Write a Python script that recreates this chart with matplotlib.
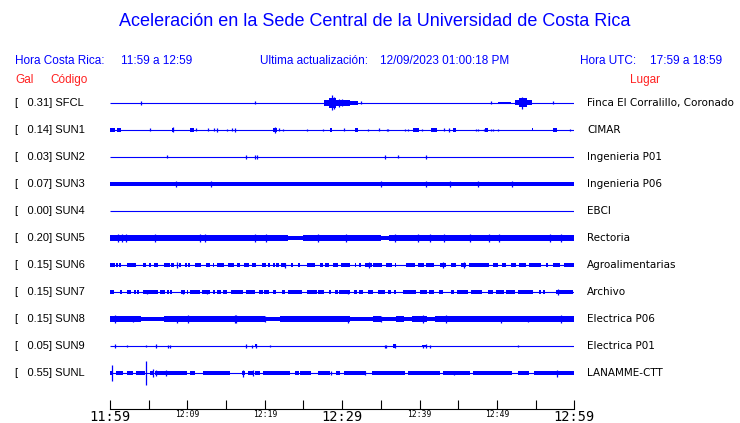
import matplotlib
matplotlib.use('Agg')
import matplotlib.pyplot as plt
import numpy as np
from matplotlib.transforms import blended_transform_factory

# ---------------- data ----------------
title = "Aceleración en la Sede Central de la Universidad de Costa Rica"
codes = ['SFCL', 'SUN1', 'SUN2', 'SUN3', 'SUN4', 'SUN5', 'SUN6', 'SUN7', 'SUN8', 'SUN9', 'SUNL']
gal = [0.31, 0.14, 0.03, 0.07, 0.00, 0.20, 0.15, 0.15, 0.15, 0.05, 0.55]
places = ['Finca El Corralillo, Coronado', 'CIMAR', 'Ingenieria P01', 'Ingenieria P06', 'EBCI',
          'Rectoria', 'Agroalimentarias', 'Archivo', 'Electrica P06', 'Electrica P01', 'LANAMME-CTT']

tick_minutes = [0, 5, 10, 15, 20, 25, 30, 35, 40, 45, 50, 55, 60]
tick_labels = ['11:59', '', '12:09', '', '12:19', '', '12:29', '', '12:39', '', '12:49', '', '12:59']
big_labels = ['11:59', '12:29', '12:59']

# bursts: (start minute, end minute, half amplitude in px-units)
sfcl_bursts = [(27.7, 28.3, 2.6), (28.3, 29.2, 5.0), (29.2, 31.0, 2.8), (31.0, 32.1, 2.2), (50.1, 51.8, 1.3),
               (52.3, 52.9, 2.5), (52.9, 53.9, 4.5), (53.9, 54.5, 2.5)]
sfcl_spikes = [(4.0, 2.0), (18.7, 1.5), (28.7, 7.5), (29.0, 6.0), (29.6, 4.0), (30.0, 3.5), (32.5, 1.5),
               (49.3, 1.5), (53.3, 6.3), (57.2, 1.5)]

sun1_bursts = [(0.0, 0.6, 1.8), (0.9, 1.4, 1.8), (8.0, 8.2, 2.0), (10.3, 10.8, 1.8), (21.1, 21.6, 2.0),
               (28.4, 28.7, 1.8), (31.7, 32.0, 1.8), (39.2, 39.9, 1.8), (41.5, 42.2, 1.8),
               (44.3, 44.7, 1.8), (48.5, 48.8, 1.8), (54.5, 54.7, 1.5), (57.2, 57.7, 1.8)]
sun1_spikes = [(5.2, 1.5), (8.1, 2.5), (11.1, 1.5), (12.6, 1.5), (13.5, 1.5), (13.8, 2.0), (15.1, 1.0),
               (15.8, 1.5), (16.2, 2.0), (21.3, 3.4), (21.8, 1.5), (22.4, 1.2), (25.5, 1.2), (27.5, 1.0),
               (30.2, 1.5), (33.4, 1.2), (34.8, 1.5), (35.8, 1.2), (35.9, 1.2), (38.1, 1.2), (38.5, 1.2),
               (40.3, 1.2), (43.2, 1.5), (43.8, 2.3), (47.3, 1.2), (47.6, 1.2), (48.3, 1.2), (49.2, 1.2),
               (49.5, 1.2), (50.2, 1.2), (59.4, 1.2)]

sun2_bursts = []
sun2_spikes = [(7.4, 1.5), (17.6, 2.0), (18.8, 2.0), (19.0, 2.0), (35.5, 2.0), (37.2, 1.5), (40.9, 2.0)]

# per-minute envelope (half amplitude, px-units) for the continuous traces
sun3_env = [2.2, 2.1, 2.1, 2.2, 2.1, 2.0, 2.1, 2.2, 2.1, 2.1, 2.1, 2.2, 2.1, 2.1, 2.0, 2.1, 2.1, 2.2, 2.1, 2.1,
            2.1, 2.1, 2.2, 2.1, 2.1, 2.1, 2.0, 2.1, 2.1, 2.2, 2.1, 2.1, 2.1, 2.2, 2.1, 2.1, 2.1, 2.2, 2.2, 2.1,
            2.1, 2.1, 2.1, 2.2, 2.1, 2.1, 2.1, 2.1, 2.2, 2.1, 2.1, 2.1, 2.1, 2.1, 2.2, 2.1, 2.1, 2.1, 2.1, 2.2]
sun3_spikes = [(8.5, 2.8), (13.0, 2.8), (35.0, 3.0), (40.9, 3.2), (44.0, 2.8), (47.5, 2.8), (52.0, 2.8)]

sun5_env = [3.0, 3.0, 3.0, 2.8, 2.8, 2.8, 2.8, 2.9, 2.8, 2.8, 2.8, 2.7, 2.7, 2.8, 2.7, 2.7, 2.7, 2.8, 2.7, 2.7,
            2.8, 2.7, 2.7, 2.3, 2.3, 2.8, 2.8, 2.9, 2.8, 2.8, 2.8, 2.9, 2.8, 2.8, 2.8, 1.6, 3.0, 3.0, 3.0, 3.1,
            3.0, 3.0, 3.1, 3.0, 3.0, 3.0, 3.1, 3.0, 3.0, 3.0, 2.9, 2.9, 2.9, 2.8, 2.9, 2.9, 2.9, 2.8, 2.9, 2.9]
sun5_spikes = [(1.0, 4.0), (1.6, 4.0), (2.1, 4.0), (5.8, 4.0), (11.6, 4.0), (12.3, 3.8), (18.8, 4.0),
               (20.2, 3.8), (26.9, 3.8), (30.5, 4.2), (36.8, 3.8), (39.8, 4.0), (41.3, 3.8), (43.1, 4.0),
               (46.5, 3.8), (49.0, 3.8), (50.3, 4.0), (56.8, 3.8), (58.3, 3.8)]

sun6_bursts = [(0.0, 0.6, 1.7), (0.8, 1.0, 1.7), (1.2, 1.4, 1.7), (2.2, 3.4, 1.7), (4.3, 4.6, 1.7),
               (5.1, 5.3, 1.7), (5.7, 6.2, 1.7), (7.0, 7.7, 1.7), (7.9, 8.3, 1.7), (8.9, 9.2, 1.7),
               (9.7, 9.9, 1.7), (10.1, 10.3, 1.7), (11.0, 11.8, 1.7), (12.4, 12.9, 1.7), (13.3, 13.5, 1.7),
               (13.8, 14.7, 1.7), (15.3, 16.0, 1.7), (16.4, 16.8, 1.7), (17.3, 17.9, 1.7), (18.4, 18.9, 1.7),
               (19.7, 20.1, 1.7), (20.4, 20.7, 1.7), (21.1, 21.3, 1.7), (21.5, 21.8, 1.7), (22.1, 22.8, 1.7),
               (23.4, 23.6, 1.7), (24.3, 24.6, 1.7), (25.4, 26.5, 1.7), (27.2, 27.5, 1.7), (27.8, 28.3, 1.7),
               (28.8, 29.5, 1.7), (29.8, 31.0, 1.7), (31.6, 31.8, 1.7), (32.2, 32.4, 1.7), (32.9, 33.8, 1.7),
               (34.0, 35.1, 1.7), (35.7, 36.4, 1.7), (36.8, 37.0, 1.7), (38.3, 39.4, 1.7), (39.8, 40.6, 1.7),
               (40.9, 41.9, 1.7), (42.6, 43.4, 1.7), (44.1, 44.7, 1.7), (45.4, 46.0, 1.7), (46.4, 49.0, 1.7),
               (49.5, 50.1, 1.7), (50.7, 51.2, 1.7), (51.8, 52.5, 1.7), (52.9, 53.8, 1.7), (54.2, 55.7, 1.7),
               (56.3, 56.6, 1.7), (57.2, 58.1, 1.7), (58.7, 60.0, 1.7)]
sun6_spikes = [(8.6, 3.3), (22.6, 2.5), (33.5, 3.0), (43.0, 3.0), (45.8, 2.7)]

sun7_bursts = [(0.0, 0.5, 1.6), (1.3, 1.6, 1.6), (2.2, 2.7, 1.6), (3.1, 3.3, 1.6), (3.5, 3.7, 1.6),
               (4.3, 6.2, 1.6), (6.5, 7.1, 1.6), (7.4, 7.6, 1.6), (7.8, 8.0, 1.6), (9.2, 9.7, 1.6),
               (9.9, 10.1, 1.6), (10.3, 11.6, 1.6), (11.9, 12.9, 1.6), (13.3, 13.6, 1.6), (13.8, 14.3, 1.6),
               (14.6, 15.1, 1.6), (15.6, 17.2, 1.6), (17.6, 18.7, 1.6), (19.3, 19.8, 1.6), (19.9, 20.5, 1.6),
               (21.1, 21.5, 1.6), (22.2, 22.6, 1.6), (23.0, 24.8, 1.6), (25.4, 26.7, 1.6), (26.9, 27.7, 1.6),
               (28.3, 28.6, 1.6), (29.1, 29.4, 1.6), (29.6, 31.0, 1.6), (31.5, 31.9, 1.6), (32.2, 32.7, 1.6),
               (33.3, 34.0, 1.6), (34.6, 35.1, 1.6), (35.2, 35.5, 1.6), (35.9, 36.3, 1.6), (36.7, 36.9, 1.6),
               (37.8, 39.6, 1.6), (40.0, 41.0, 1.6), (41.2, 41.9, 1.6), (42.5, 43.0, 1.6), (44.1, 44.5, 1.6),
               (44.9, 46.2, 1.6), (46.7, 48.1, 1.6), (48.8, 49.5, 1.6), (49.9, 50.9, 1.6), (51.2, 52.3, 1.6),
               (52.7, 54.6, 1.6), (55.4, 55.7, 1.6), (56.0, 56.2, 1.6), (57.6, 59.8, 1.6)]
sun7_spikes = [(4.8, 2.2), (9.4, 2.2), (12.5, 2.2), (30.8, 2.2), (57.9, 3.3)]

sun8_env = [2.7, 2.7, 2.7, 2.6, 2.1, 2.1, 2.2, 2.6, 2.6, 2.5, 2.5, 2.6, 2.5, 2.5, 2.6, 2.5, 2.6, 2.5, 2.5, 2.5,
            2.2, 2.2, 2.5, 2.6, 2.5, 2.5, 2.5, 2.6, 2.5, 2.5, 2.5, 2.0, 2.1, 2.0, 2.5, 2.0, 2.1, 2.5, 2.0, 2.5,
            2.5, 2.1, 2.5, 2.5, 2.6, 2.8, 2.8, 2.9, 2.8, 2.8, 2.9, 2.8, 2.8, 2.8, 2.9, 2.8, 2.6, 2.5, 2.6, 2.7]
sun8_spikes = [(0.6, 3.8), (3.0, 3.3), (8.6, 3.5), (10.1, 3.6), (16.1, 3.8), (16.3, 3.6), (20.0, 3.3),
               (30.7, 3.5), (35.0, 3.3), (40.4, 3.8), (43.4, 3.6), (50.5, 3.5), (54.0, 3.3), (58.3, 3.8)]

sun9_bursts = [(18.8, 19.0, 1.5), (36.6, 36.9, 1.8), (40.3, 40.9, 1.3)]
sun9_spikes = [(0.6, 2.0), (2.2, 1.2), (4.6, 1.2), (6.0, 2.0), (7.5, 1.5), (7.7, 1.5), (17.6, 2.0),
               (18.3, 1.5), (18.9, 2.0), (20.7, 1.2), (35.5, 1.5), (35.7, 1.5), (36.8, 2.0), (40.4, 1.5),
               (40.9, 2.0), (41.3, 1.5), (52.7, 1.2)]

sunl_bursts = [(0.0, 0.4, 1.8), (0.8, 1.7, 1.8), (2.2, 3.0, 1.8), (3.4, 4.5, 1.8), (5.2, 5.5, 1.8),
               (5.8, 9.9, 2.0), (10.3, 11.0, 1.8), (12.0, 15.5, 1.8), (17.0, 17.4, 1.8), (17.8, 18.5, 1.8),
               (18.7, 19.4, 1.8), (19.8, 23.2, 1.8), (23.9, 24.4, 1.8), (24.5, 26.0, 1.8), (26.9, 28.4, 1.8),
               (29.2, 29.7, 1.8), (30.3, 33.1, 1.8), (33.8, 38.1, 1.8), (38.5, 42.6, 1.8), (43.0, 46.5, 1.8),
               (46.9, 52.0, 1.8), (52.7, 54.2, 1.8), (54.8, 60.0, 1.8)]
sunl_spikes = [(0.2, 7.5), (4.7, 12.0), (5.5, 4.0), (6.0, 2.5), (7.3, 2.5), (17.2, 3.5), (18.5, 2.5),
               (28.5, 2.0), (33.0, 2.0), (44.5, 2.0), (57.8, 3.5)]

traces = {
    'SFCL': (None, sfcl_bursts, sfcl_spikes),
    'SUN1': (None, sun1_bursts, sun1_spikes),
    'SUN2': (None, sun2_bursts, sun2_spikes),
    'SUN3': (sun3_env, [], sun3_spikes),
    'SUN4': (None, [], []),
    'SUN5': (sun5_env, [], sun5_spikes),
    'SUN6': (None, sun6_bursts, sun6_spikes),
    'SUN7': (None, sun7_bursts, sun7_spikes),
    'SUN8': (sun8_env, [], sun8_spikes),
    'SUN9': (None, sun9_bursts, sun9_spikes),
    'SUNL': (None, sunl_bursts, sunl_spikes),
}

# ---------------- drawing ----------------
W, H = 740, 423
BLUE = '#0000ff'
RED = '#ff2020'
SANS = ['Liberation Sans', 'DejaVu Sans']

fig = plt.figure(figsize=(W / 100, H / 100), dpi=100)
ax = fig.add_axes([110 / W, (H - 409) / H, (574.3 - 110) / W, (409 - 90) / H])
ax.set_xlim(tick_minutes[0], tick_minutes[-1])
ax.set_ylim((409 - 103) / 27, (90 - 103) / 27)
S = 1 / 27.0  # px-units -> row units

for i, code in enumerate(codes):
    env, bursts, spikes = traces[code]
    ax.hlines(i, tick_minutes[0], tick_minutes[-1], color=BLUE, lw=0.8)
    if env is not None:
        x = np.arange(len(env) + 1)
        e = np.array(env + [env[-1]]) * S
        ax.fill_between(x, i - e, i + e, step='post', color=BLUE, lw=0)
    for s, t, h in bursts:
        ax.fill_between([s, t], [i - h * S] * 2, [i + h * S] * 2, color=BLUE, lw=0)
    for m, h in spikes:
        ax.vlines(m, i - h * S, i + h * S, color=BLUE, lw=0.9)

for sp in ['top', 'left', 'right']:
    ax.spines[sp].set_visible(False)
ax.spines['bottom'].set_linewidth(0.8)
ax.set_yticks([])
ax.set_xticks(tick_minutes)
ax.set_xticklabels(tick_labels, family='DejaVu Sans Mono')
ax.tick_params(axis='x', direction='in', length=6.5, width=0.8, pad=1.0)
for lab in ax.get_xticklabels():
    lab.set_fontsize(9.8 if lab.get_text() in big_labels else 5.8)

trans = blended_transform_factory(fig.transFigure, ax.transData)
for i, code in enumerate(codes):
    ax.text(15 / W, i, f"[{gal[i]:7.2f}] {code}", transform=trans, ha='left', va='center',
            fontsize=8, family=SANS, color='black')
    ax.text(587 / W, i, places[i], transform=trans, ha='left', va='center',
            fontsize=7.5, family='DejaVu Sans', color='black')

def ft(x, y, s, color, size=8.5, ha='left'):
    fig.text(x / W, 1 - y / H, s, color=color, fontsize=size, family=SANS, ha=ha, va='center')

ft(375, 22, title, BLUE, size=13, ha='center')
ft(15, 61, 'Hora Costa Rica:', BLUE)
ft(121, 61, '11:59 a 12:59', BLUE)
ft(260, 61, 'Ultima actualización:', BLUE)
ft(380, 61, '12/09/2023 01:00:18 PM', BLUE)
ft(580, 61, 'Hora UTC:', BLUE)
ft(650, 61, '17:59 a 18:59', BLUE)
ft(15, 80, 'Gal', RED)
ft(50, 80, 'Código', RED)
ft(630, 80, 'Lugar', RED)

fig.savefig('out.png', dpi=100)
